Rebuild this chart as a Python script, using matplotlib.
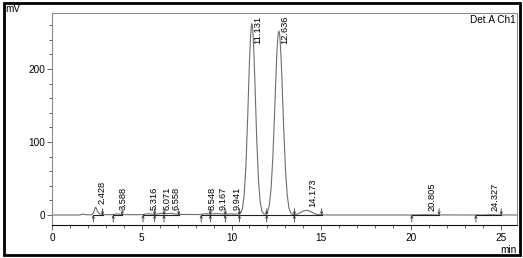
import matplotlib
matplotlib.use('Agg')
import matplotlib.pyplot as plt
from matplotlib.patches import Rectangle
from matplotlib.ticker import MultipleLocator

plt.rcParams['font.family'] = ['Liberation Sans', 'DejaVu Sans']

# chromatogram trace (min, mV)
trace_t = [0.0, 1.5, 1.65, 1.75, 1.85, 2.0, 2.2, 2.3, 2.35, 2.4, 2.43, 2.47, 2.52, 2.58,
           2.65, 2.75, 2.9, 3.3, 3.45, 3.59, 3.75, 3.95, 4.8, 5.1, 5.32, 5.55, 5.72, 5.9,
           6.07, 6.2, 6.35, 6.56, 6.8, 7.1, 8.2, 8.4, 8.55, 8.7, 8.9, 9.17, 9.4, 9.7,
           9.94, 10.2, 10.4, 10.5, 10.6, 10.7, 10.8, 10.9, 11.0, 11.05, 11.1, 11.131,
           11.16, 11.2, 11.25, 11.3, 11.4, 11.5, 11.6, 11.7, 11.8, 11.9, 12.0, 12.1,
           12.2, 12.3, 12.4, 12.5, 12.55, 12.6, 12.636, 12.67, 12.7, 12.75, 12.8, 12.9,
           13.0, 13.1, 13.2, 13.3, 13.4, 13.5, 13.7, 13.85, 14.0, 14.17, 14.3, 14.45,
           14.6, 14.8, 15.0, 15.6, 20.0, 20.8, 21.5, 24.0, 24.33, 25.0, 25.9]
trace_mv = [0.0, 0.0, 0.8, 1.2, 0.6, 0.2, 0.3, 2.5, 6.0, 9.5, 10.5, 9.0, 5.5, 3.0,
            1.8, 1.0, 0.5, 0.4, 0.7, 1.6, 1.0, 0.5, 0.4, 0.7, 1.8, 1.3, 1.0, 1.5,
            2.2, 1.7, 1.8, 2.3, 1.6, 0.8, 0.6, 1.2, 1.8, 1.5, 1.4, 1.9, 1.5, 1.2,
            1.6, 1.2, 1.5, 2.5, 7.8, 25.8, 66.6, 134.5, 211.4, 241.3, 258.9, 262.0,
            259.2, 246.8, 219.5, 183.4, 106.0, 47.8, 16.8, 4.6, 1.5, 1.1, 3.9, 13.0,
            35.4, 78.5, 141.7, 208.2, 233.4, 248.6, 252.0, 249.0, 241.6, 220.3, 190.9, 122.7,
            64.1, 27.3, 9.4, 2.6, 0.8, 0.4, 1.5, 3.5, 5.5, 6.5, 5.8, 4.0,
            2.0, 0.7, 0.3, 0.0, 0.0, 0.4, 0.1, 0.0, 0.3, 0.1, 0.0]

# peak table
peak_rt = [2.428, 3.588, 5.316, 6.071, 6.558, 8.548, 9.167, 9.941,
           11.131, 12.636, 14.173, 20.805, 24.327]
peak_ht = [10.5, 1.6, 1.8, 2.2, 2.3, 1.8, 1.9, 1.6, 262.0, 252.0, 6.5, 0.4, 0.3]
peak_start = [2.30, 3.41, 5.07, 5.72, 6.24, 8.31, 8.82, 9.65, 10.44, 11.96, 13.50, 20.04, 23.61]
peak_end = [2.82, 3.91, 5.72, 6.24, 7.06, 8.82, 9.65, 10.44, 11.96, 13.50, 15.02, 21.56, 25.02]

fig = plt.figure(figsize=(5.23, 2.58), dpi=100)
ax = fig.add_axes([52 / 523, 1 - 225.3 / 258, 465 / 523, 212 / 258])

ax.plot(trace_t, trace_mv, color='#6e6e6e', lw=0.8)

for s, e in zip(peak_start, peak_end):
    ax.plot([s, e], [0, 0], color='#222222', lw=0.8)
    ax.annotate('', xy=(s, 0), xytext=(0, -5), textcoords='offset points',
                arrowprops=dict(arrowstyle='->', color='#333333', lw=0.6,
                                mutation_scale=4, shrinkA=0, shrinkB=0))
    ax.annotate('', xy=(e, 0), xytext=(0, 4.5), textcoords='offset points',
                arrowprops=dict(arrowstyle='->', color='#333333', lw=0.6,
                                mutation_scale=4, shrinkA=0, shrinkB=0))

ytop = 276.3
for rt, h in zip(peak_rt, peak_ht):
    lab = '%.3f' % rt
    if h > 200:
        ax.annotate(lab, xy=(rt, ytop), xytext=(4.5, -1.5), textcoords='offset points',
                    rotation=90, ha='center', va='top', fontsize=6.7)
    else:
        ax.annotate(lab, xy=(rt, h), xytext=(4.5, 2.5), textcoords='offset points',
                    rotation=90, ha='center', va='bottom', fontsize=6.7)

ax.set_xlim(0, 25.9)
ax.set_ylim(-14.1, ytop)
ax.set_xticks([0, 5, 10, 15, 20, 25])
ax.set_yticks([0, 100, 200])
ax.xaxis.set_minor_locator(MultipleLocator(1))
ax.yaxis.set_minor_locator(MultipleLocator(20))
ax.tick_params(which='major', direction='out', length=3.5, width=0.6, color='#444444',
               labelsize=7.2, pad=2)
ax.tick_params(which='minor', direction='out', length=2, width=0.6, color='#444444')
ax.tick_params(axis='y', pad=1.2)

for side in ['left', 'top', 'right']:
    ax.spines[side].set_color('#8c8c8c')
    ax.spines[side].set_linewidth(0.8)
ax.spines['bottom'].set_color('#111111')
ax.spines['bottom'].set_linewidth(0.8)

ax.text(0.998, 0.99, 'Det.A Ch1', transform=ax.transAxes, ha='right', va='top', fontsize=7.2)
fig.text(5 / 523, 1 - 3.8 / 258, 'mV', ha='left', va='top', fontsize=7.2)
fig.text(517 / 523, 1 - 255 / 258, 'min', ha='right', va='bottom', fontsize=7.2)

fig.patches.append(Rectangle((3.7 / 523, 3 / 258), 516.6 / 523, 252.5 / 258,
                             transform=fig.transFigure, fill=False, ec='black', lw=2))

fig.savefig('out.png', dpi=100)
